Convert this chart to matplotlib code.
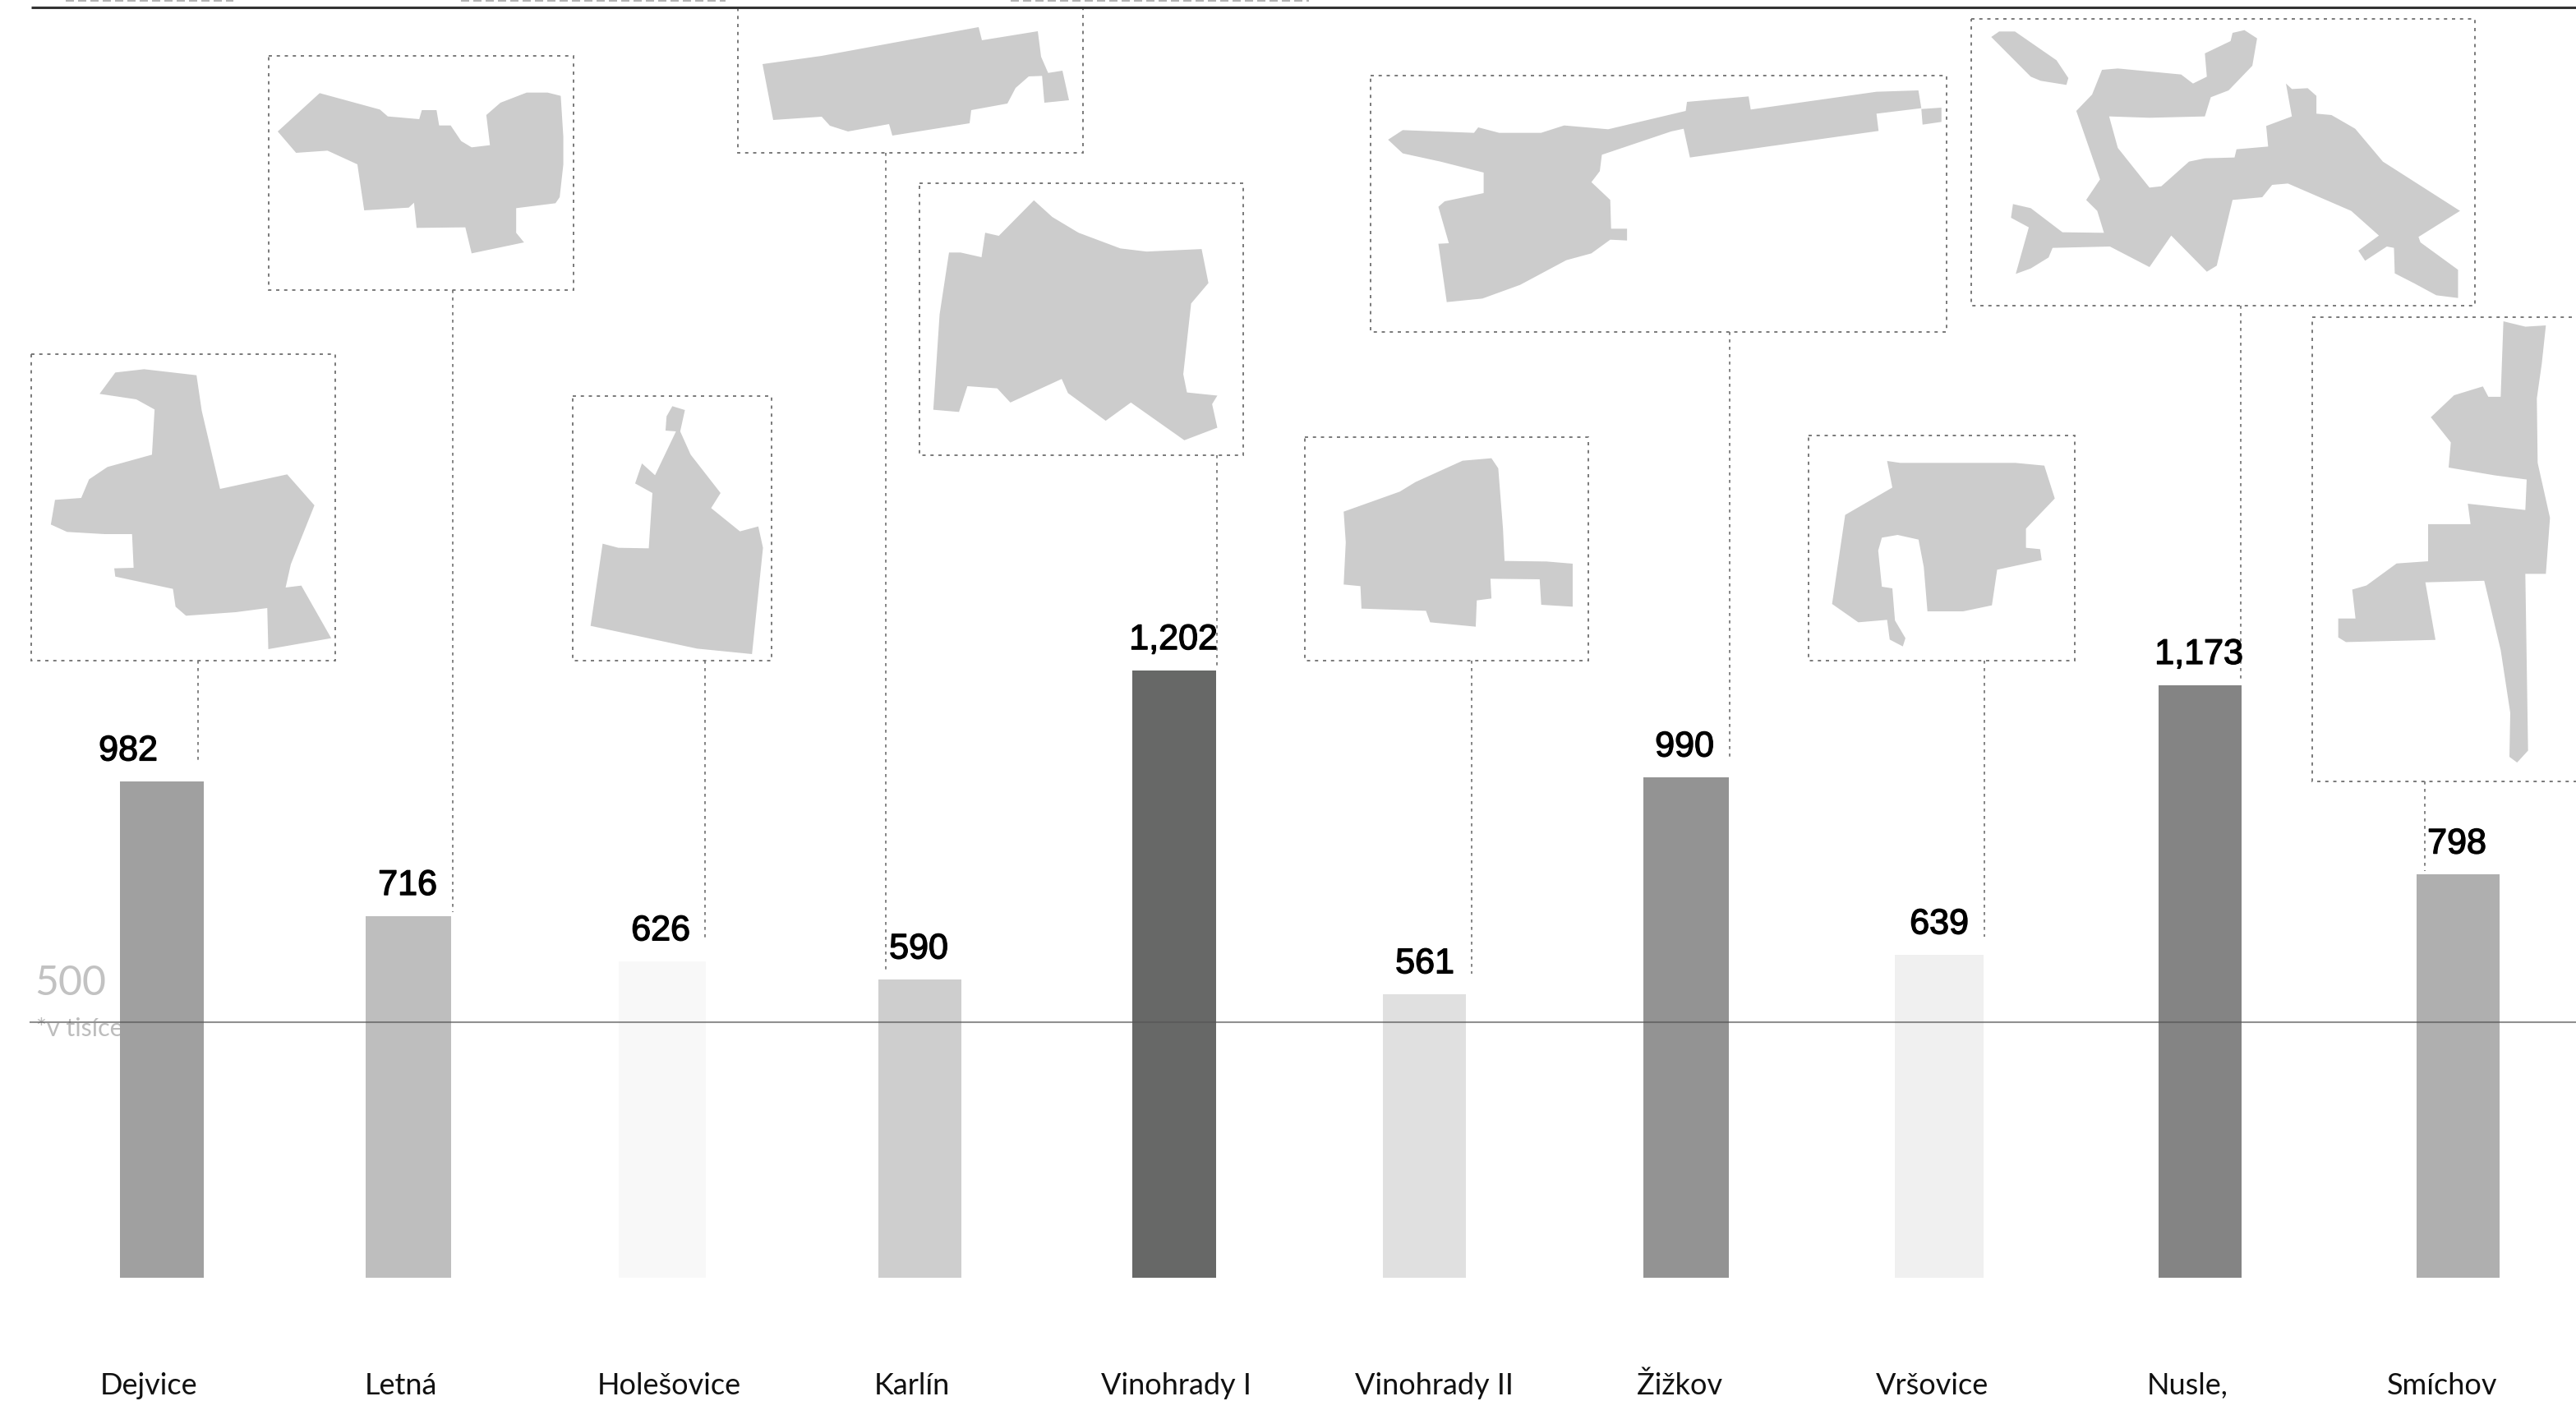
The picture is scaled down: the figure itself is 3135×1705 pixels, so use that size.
import matplotlib
matplotlib.use("Agg")
import matplotlib.pyplot as plt
import matplotlib.patheffects as pe
from matplotlib.patches import Polygon, Rectangle

W = 3135
H = 1705

districts = ["Dejvice", "Letná", "Holešovice", "Karlín", "Vinohrady I",
             "Vinohrady II", "Žižkov", "Vršovice", "Nusle,", "Smíchov"]
values = [982, 716, 626, 590, 1202, 561, 990, 639, 1173, 798]
value_labels = ["982", "716", "626", "590", "1,202", "561", "990", "639", "1,173", "798"]
bar_greys = ["#a0a0a0", "#bebebe", "#f8f8f8", "#cecece", "#676867",
             "#e0e0e0", "#939393", "#f0f0f0", "#848484", "#afafaf"]

# layout in pixels of the full picture
bar_left = [146, 445, 753, 1069, 1378, 1683, 2000, 2306, 2627, 2941]
bar_right = [248, 549, 859, 1170, 1480, 1784, 2104, 2414, 2728, 3042]
label_x = [156, 496, 804, 1118, 1428, 1734, 2050, 2360, 2676, 2990]
name_x = [122, 444, 727, 1064, 1340, 1649, 1992, 2283, 2613, 2905]
px_per_unit = 0.615
base_y = 1555

# box: left, top, right, bottom, stem x, stem end y
boxes = [
    (38, 431, 408, 804, 241, 925),
    (327, 68, 698, 353, 551, 1110),
    (697, 482, 939, 804, 858, 1145),
    (898, 9, 1318, 186, 1078, 1180),
    (1119, 223, 1513, 554, 1481, 812),
    (1588, 532, 1933, 804, 1791, 1185),
    (1668, 92, 2369, 404, 2105, 925),
    (2201, 530, 2525, 804, 2415, 1140),
    (2399, 23, 3012, 372, 2727, 830),
    (2814, 386, 3160, 951, 2951, 1060),
]

# outlines: crop points, crop origin, crop scale
dejvice = [(220, 160), (275, 148), (375, 170), (385, 300), (420, 585), (548, 532), (600, 645), (555, 860),
           (545, 945), (575, 938), (632, 1130), (512, 1170), (510, 1020), (450, 1035), (355, 1048), (335, 1015),
           (330, 950), (220, 905), (218, 875), (255, 873), (252, 750), (200, 750), (128, 742), (97, 715),
           (105, 625), (155, 618), (170, 550), (205, 505), (290, 460), (295, 295), (260, 258), (190, 238)]
letna = [(610, 340), (725, 400), (740, 425), (800, 435), (805, 402), (833, 402), (838, 458), (860, 458),
         (880, 515), (900, 538), (935, 530), (928, 420), (955, 375), (1005, 338), (1045, 338), (1070, 350),
         (1075, 500), (1075, 600), (1068, 720), (1060, 742), (985, 760), (985, 850), (1000, 885), (900, 925),
         (888, 830), (795, 832), (790, 740), (780, 758), (695, 768), (682, 600), (625, 550), (565, 558), (530, 480)]
holesovice = [(1283, 283), (1307, 297), (1298, 375), (1318, 460), (1375, 600), (1357, 655), (1412, 740),
              (1447, 722), (1456, 800), (1435, 1188), (1330, 1168), (1127, 1085), (1150, 785), (1180, 800),
              (1238, 802), (1245, 600), (1212, 565), (1225, 492), (1250, 535), (1290, 375), (1270, 372), (1272, 320)]
karlin = [(928, 78), (1000, 68), (1191, 33), (1195, 49), (1263, 38), (1267, 69), (1277, 92), (1252, 93),
          (1236, 107), (1226, 126), (1182, 134), (1180, 150), (1086, 165), (1082, 151), (1032, 160),
          (1010, 153), (1000, 142), (941, 146)]
karlin_end = [(1268, 90), (1293, 86), (1301, 122), (1271, 125)]
vinohrady1 = [(405, 637), (440, 690), (490, 740), (570, 790), (620, 800), (725, 792), (738, 900), (705, 965),
              (690, 1190), (697, 1248), (755, 1258), (745, 1285), (755, 1360), (692, 1400), (590, 1280),
              (542, 1338), (470, 1250), (458, 1205), (360, 1280), (335, 1235), (278, 1228), (262, 1310),
              (213, 1303), (225, 1000), (243, 803), (265, 803), (305, 818), (312, 740), (338, 750)]
vinohrady2 = [(345, 152), (400, 143), (413, 180), (422, 400), (425, 518), (505, 520), (555, 528), (555, 685),
              (495, 678), (492, 585), (398, 583), (400, 655), (372, 662), (370, 758), (283, 742), (275, 700),
              (152, 692), (150, 610), (118, 604), (122, 450), (118, 338), (225, 265), (255, 230)]
zizkov = [(175, 510), (210, 475), (380, 485), (390, 465), (440, 485), (540, 485), (595, 458), (700, 472),
          (885, 405), (888, 372), (1035, 352), (1040, 400), (1340, 335), (1440, 330), (1447, 395), (1340, 415),
          (1345, 478), (895, 575), (880, 470), (850, 480), (685, 565), (680, 625), (660, 665), (705, 730),
          (707, 835), (745, 835), (745, 878), (705, 875), (660, 925), (600, 950), (490, 1040), (400, 1090),
          (315, 1103), (295, 890), (320, 888), (295, 755), (310, 735), (403, 705), (403, 630), (300, 590), (210, 560)]
zizkov_end = [(1447, 398), (1495, 393), (1495, 445), (1450, 455)]
vrsovice = [(1155, 153), (1180, 160), (1400, 160), (1455, 170), (1475, 290), (1420, 400), (1420, 470),
            (1447, 475), (1450, 515), (1365, 550), (1355, 680), (1300, 702), (1232, 702), (1225, 540),
            (1215, 440), (1175, 423), (1145, 433), (1138, 480), (1145, 612), (1165, 618), (1170, 735),
            (1190, 800), (1185, 830), (1160, 805), (1155, 733), (1100, 742), (1050, 675), (1075, 350), (1165, 250)]
nusle = [(370, 255), (410, 250), (570, 272), (600, 305), (635, 280), (630, 195), (695, 150), (700, 120),
         (730, 110), (762, 140), (750, 240), (690, 330), (645, 355), (630, 425), (490, 430), (388, 425),
         (410, 540), (490, 685), (520, 680), (590, 590), (630, 578), (705, 575), (710, 545), (790, 535),
         (785, 460), (850, 425), (835, 305), (850, 325), (890, 322), (912, 350), (912, 415), (950, 420),
         (1010, 470), (1080, 590), (1275, 770), (1170, 865), (1175, 885), (1270, 985), (1270, 1088),
         (1215, 1078), (1160, 1035), (1110, 998), (1108, 905), (1090, 900), (1035, 952), (1018, 915),
         (1070, 860), (1000, 770), (840, 670), (800, 675), (775, 720), (700, 730), (660, 970), (635, 992),
         (545, 860), (490, 975), (390, 900), (245, 905), (235, 940), (190, 980), (152, 1000), (185, 830),
         (140, 795), (145, 745), (190, 760), (270, 848), (375, 850), (358, 770), (330, 730), (365, 655),
         (305, 405), (345, 345)]
nusle_island = [(90, 135), (110, 115), (150, 115), (255, 220), (285, 285), (280, 310), (215, 295), (190, 280)]
smichov = [(860, 55), (940, 72), (1015, 68), (1000, 190), (982, 300), (985, 505), (1030, 680), (1015, 858),
           (940, 858), (950, 1420), (910, 1458), (882, 1440), (885, 1300), (850, 1100), (790, 880), (575, 885),
           (612, 1068), (285, 1075), (257, 1060), (257, 1000), (320, 1000), (308, 908), (360, 895), (470, 825),
           (585, 818), (585, 700), (740, 700), (730, 635), (940, 655), (945, 558), (830, 545), (660, 520),
           (668, 440), (595, 360), (680, 290), (785, 262), (805, 295), (850, 295)]

outlines = [
    (dejvice, 0, 400, 1.568, 3),
    (letna, 0, 0, 1.568, 3),
    (holesovice, 0, 400, 1.568, 3),
    (karlin, 0, 0, 1, 1),
    (karlin_end, 0, 0, 1, 1),
    (vinohrady1, 1000, 0, 1.568, 2.613),
    (vinohrady2, 1560, 510, 1.568, 3),
    (zizkov, 1600, 0, 1.96, 3),
    (zizkov_end, 1600, 0, 1.96, 3),
    (vrsovice, 1560, 510, 1.568, 3),
    (nusle, 2380, 0, 2.077, 3),
    (nusle_island, 2380, 0, 2.077, 3),
    (smichov, 2760, 370, 3, 2.613),
]

fig = plt.figure(figsize=(W / 100, H / 100), dpi=100, facecolor="white")

# pixel axes for boxes and shapes
ax = fig.add_axes([0, 0, 1, 1])
ax.set_xlim(0, W)
ax.set_ylim(H, 0)
ax.axis("off")

# bars sit in their own axes so the value scale does the work
bar_ax = fig.add_axes([0, 0, 1, 1], sharex=ax)
bar_ax.set_ylim((base_y - H) / px_per_unit, base_y / px_per_unit)
bar_ax.axis("off")
bar_ax.patch.set_alpha(0)

dash = (0, (2.2, 3.2))
for left, top, right, bottom, stem_x, stem_end in boxes:
    ax.add_patch(Rectangle((left, top), right - left, bottom - top, fill=False,
                           edgecolor="#707070", linewidth=1.3, linestyle=dash))
    ax.plot([stem_x, stem_x], [bottom, stem_end], color="#707070", linewidth=1.2, linestyle=dash)

for points, ox, oy, sx, sy in outlines:
    shape = [(ox + px / sx, oy + py / sy) for px, py in points]
    ax.add_patch(Polygon(shape, closed=True, facecolor="#cccccc", edgecolor="none"))

ax.text(42, 1197, "500", fontsize=36, color="#c2c2c2", family="Lato", va="center", ha="left")
ax.text(44, 1252, "*v tisíce", fontsize=22, color="#bdbdbd", family="Lato", va="center", ha="left")

bar_ax.bar([(l + r) / 2 for l, r in zip(bar_left, bar_right)], values,
           width=[r - l for l, r in zip(bar_left, bar_right)], color=bar_greys, linewidth=0)
ax.set_zorder(0)
bar_ax.set_zorder(1)
bar_ax.plot([37, W], [505, 505], color="#555555", alpha=0.65, linewidth=1.5)

for x, v, txt in zip(label_x, values, value_labels):
    bar_ax.annotate(txt, (x, v), xytext=(0, 12), textcoords="offset points", ha="center", va="bottom",
                    fontsize=31, color="black", family="Liberation Sans",
                    path_effects=[pe.withStroke(linewidth=1.0, foreground="black")])

for x, name in zip(name_x, districts):
    ax.text(x, 1697, name, fontsize=26, color="#111111", family="Lato", ha="left", va="baseline")

ax.plot([38, W], [9, 9], color="#333333", linewidth=2.2, solid_capstyle="butt")

# bottom edge of the header text that the crop cuts off, too little left to read
for x0, x1 in [(80, 284), (561, 883), (1230, 1593)]:
    ax.plot([x0, x1], [0.5, 0.5], color="#a5a5a5", linewidth=1.2, linestyle=(0, (6, 3)))

fig.savefig("out.png", dpi=100)
